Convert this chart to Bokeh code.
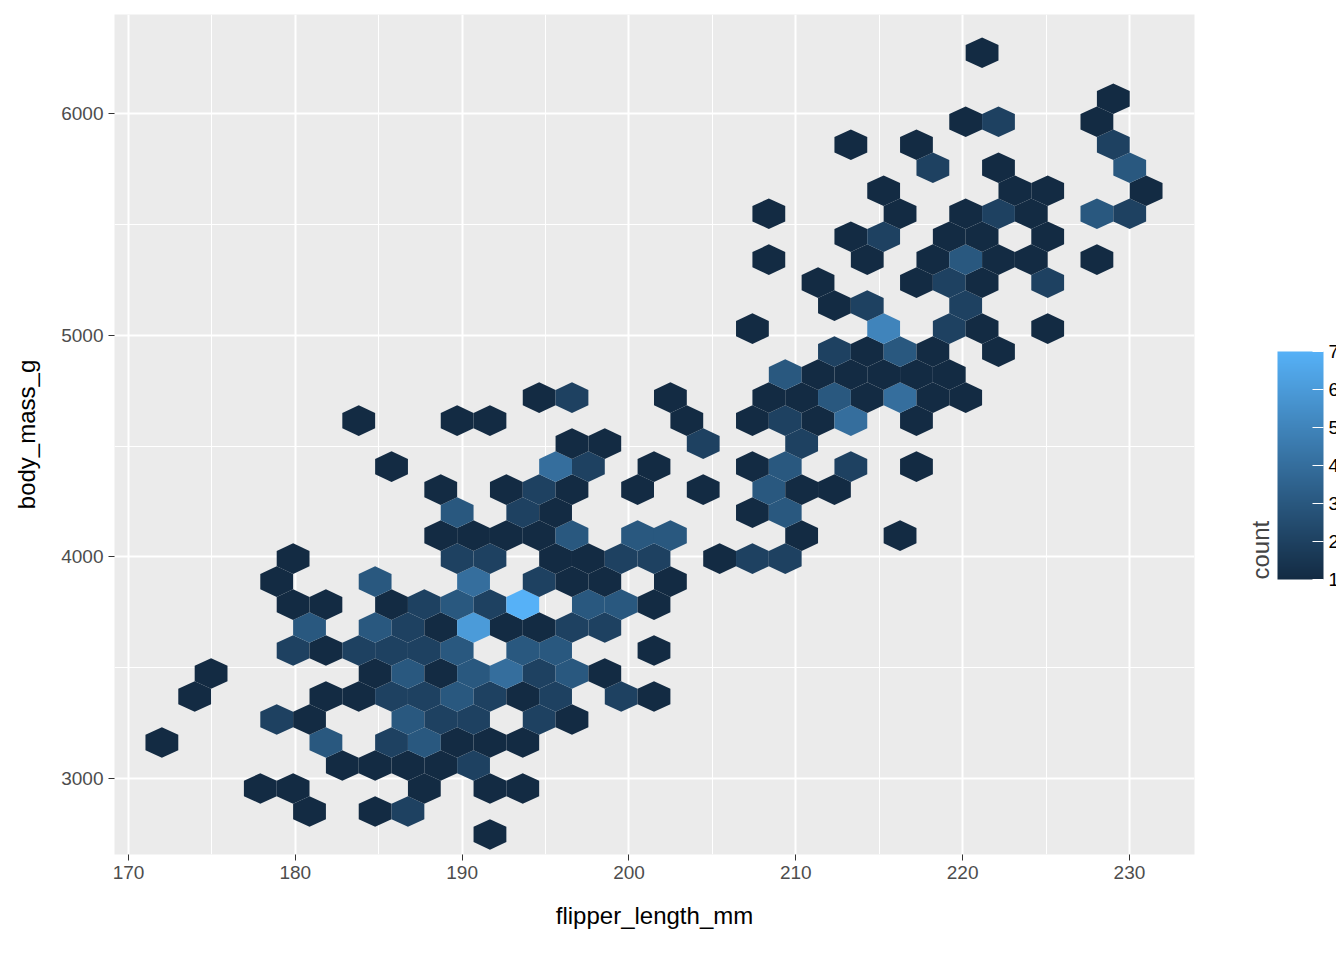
import numpy as np
from bokeh.plotting import figure
from bokeh.models import ColumnDataSource, ColorBar, LinearColorMapper, FixedTicker
from bokeh.transform import linear_cmap
from bokeh.embed import file_html
from bokeh.resources import INLINE

# hex grid: row index -> {column index: count}
X0, DX = 172.0, 59 / 30      # flipper_length_mm of column 0, column spacing
Y0, DY = 2748.0, 103.7       # body_mass_g of row 0, row spacing
cells = {
    0: {10: 1},
    1: {4: 1, 6: 1, 7: 2},
    2: {3: 1, 4: 1, 8: 1, 10: 1, 11: 1},
    3: {5: 1, 6: 1, 7: 1, 8: 1, 9: 2},
    4: {0: 1, 5: 3, 7: 2, 8: 3, 9: 1, 10: 1, 11: 1},
    5: {3: 2, 4: 1, 7: 3, 8: 2, 9: 2, 11: 2, 12: 1},
    6: {1: 1, 5: 1, 6: 1, 7: 2, 8: 2, 9: 3, 10: 2, 11: 1, 12: 2, 14: 2, 15: 1},
    7: {1: 1, 6: 1, 7: 3, 8: 1, 9: 3, 10: 4, 11: 2, 12: 3, 13: 1},
    8: {4: 2, 5: 1, 6: 2, 7: 2, 8: 2, 9: 3, 11: 3, 12: 3, 15: 1},
    9: {4: 3, 6: 3, 7: 2, 8: 1, 9: 6, 10: 1, 11: 1, 12: 2, 13: 2},
    10: {4: 1, 5: 1, 7: 1, 8: 2, 9: 3, 10: 2, 11: 7, 13: 3, 14: 3, 15: 1},
    11: {3: 1, 6: 3, 9: 4, 11: 2, 12: 1, 13: 1, 15: 1},
    12: {4: 1, 9: 2, 10: 2, 12: 1, 13: 1, 14: 2, 15: 2, 17: 1, 18: 2, 19: 2},
    13: {8: 1, 9: 1, 10: 1, 11: 1, 12: 3, 14: 3, 15: 3, 19: 1, 22: 1},
    14: {9: 3, 11: 2, 12: 1, 18: 1, 19: 3},
    15: {8: 1, 10: 1, 11: 2, 12: 1, 14: 1, 16: 1, 18: 3, 19: 1, 20: 1},
    16: {7: 1, 12: 4, 13: 2, 15: 1, 18: 1, 19: 3, 21: 2, 23: 1},
    17: {12: 1, 13: 1, 16: 2, 19: 2},
    18: {6: 1, 9: 1, 10: 1, 16: 1, 18: 1, 19: 2, 20: 1, 21: 4, 23: 1},
    19: {11: 1, 12: 2, 15: 1, 18: 1, 19: 1, 20: 3, 21: 1, 22: 4, 23: 1, 24: 1},
    20: {19: 3, 20: 1, 21: 1, 22: 1, 23: 1, 24: 1},
    21: {20: 2, 21: 1, 22: 3, 23: 1, 25: 1},
    22: {18: 1, 22: 5, 24: 2, 25: 1, 27: 1},
    23: {20: 1, 21: 2, 24: 2},
    24: {20: 1, 23: 1, 24: 2, 25: 1, 27: 2},
    25: {18: 1, 21: 1, 23: 1, 24: 3, 25: 1, 26: 1, 28: 1},
    26: {21: 1, 22: 2, 24: 1, 25: 1, 27: 1},
    27: {18: 1, 22: 1, 24: 1, 25: 2, 26: 1, 28: 3, 29: 2},
    28: {22: 1, 26: 1, 27: 1, 30: 1},
    29: {23: 2, 25: 1, 29: 3},
    30: {21: 1, 23: 1, 29: 2},
    31: {24: 1, 25: 2, 28: 1},
    32: {29: 1},
    34: {25: 1},
}
x_ticks = [170, 180, 190, 200, 210, 220, 230]
y_ticks = [3000, 4000, 5000, 6000]

# hexagon outlines (pointy top) around each bin centre
hx = np.array([0, 0.5, 0.5, 0, -0.5, -0.5]) * DX
hy = np.array([2 / 3, 1 / 3, -1 / 3, -2 / 3, -1 / 3, 1 / 3]) * DY
xs, ys, counts = [], [], []
for r, row in cells.items():
    for c, n in row.items():
        cx = X0 + DX * (c + (r % 2) / 2)
        cy = Y0 + DY * r
        xs.append(list(cx + hx))
        ys.append(list(cy + hy))
        counts.append(n)
src = ColumnDataSource(dict(xs=xs, ys=ys, count=counts))

lo, hi = np.array([0x13, 0x2B, 0x43]), np.array([0x56, 0xB1, 0xF7])
palette = ["#%02x%02x%02x" % tuple(int(round(v)) for v in lo + (hi - lo) * t)
           for t in np.linspace(0, 1, 256)]

FONT = "Liberation Sans"
p = figure(width=1336, height=944, frame_width=1080, frame_height=840,
           output_backend="svg", toolbar_location=None,
           x_range=(169.16, 233.9), y_range=(2657.6, 6446.5),
           x_axis_label="flipper_length_mm", y_axis_label="body_mass_g",
           min_border_left=114, min_border_top=14, min_border_right=142, min_border_bottom=90)
p.outline_line_color = None
p.background_fill_color = "#EBEBEB"
p.border_fill_color = "white"

p.patches("xs", "ys", source=src, line_color=None,
          fill_color=linear_cmap("count", palette, 1, 7))

p.xaxis.ticker = FixedTicker(ticks=x_ticks, minor_ticks=[175, 185, 195, 205, 215, 225])
p.yaxis.ticker = FixedTicker(ticks=y_ticks, minor_ticks=[3500, 4500, 5500])
for ax in (p.xaxis[0], p.yaxis[0]):
    ax.axis_line_color = None
    ax.major_tick_line_color = "#333333"
    ax.major_tick_in = 0
    ax.major_tick_out = 6
    ax.minor_tick_line_color = None
    ax.major_label_text_font = FONT
    ax.major_label_text_font_size = "19px"
    ax.major_label_text_color = "#4D4D4D"
    ax.axis_label_text_font = FONT
    ax.axis_label_text_font_size = "24px"
    ax.axis_label_text_font_style = "normal"
    ax.axis_label_text_color = "black"
p.xaxis.axis_label_standoff = 20
p.yaxis.axis_label_standoff = 18
p.yaxis.major_label_orientation = 0
p.xgrid.grid_line_color = "white"
p.ygrid.grid_line_color = "white"
p.xgrid.grid_line_width = 2
p.ygrid.grid_line_width = 2
p.xgrid.minor_grid_line_color = "white"
p.ygrid.minor_grid_line_color = "white"
p.xgrid.minor_grid_line_width = 1
p.ygrid.minor_grid_line_width = 1

mapper = LinearColorMapper(palette=palette, low=1, high=7)
cb = ColorBar(color_mapper=mapper, width=46, height=228, title="count",
              ticker=FixedTicker(ticks=[1, 2, 3, 4, 5, 6, 7]),
              location=(1126, 275), padding=0, margin=0,
              title_text_font=FONT, title_text_font_size="24px", title_text_font_style="normal",
              title_standoff=8,
              major_label_text_font=FONT, major_label_text_font_size="19px",
              major_label_text_color="black",
              major_tick_line_color="white", major_tick_in=11, major_tick_out=0,
              bar_line_color=None, background_fill_color=None, border_line_color=None)
p.add_layout(cb, "center")

open("out.html", "w").write(file_html(p, INLINE))
